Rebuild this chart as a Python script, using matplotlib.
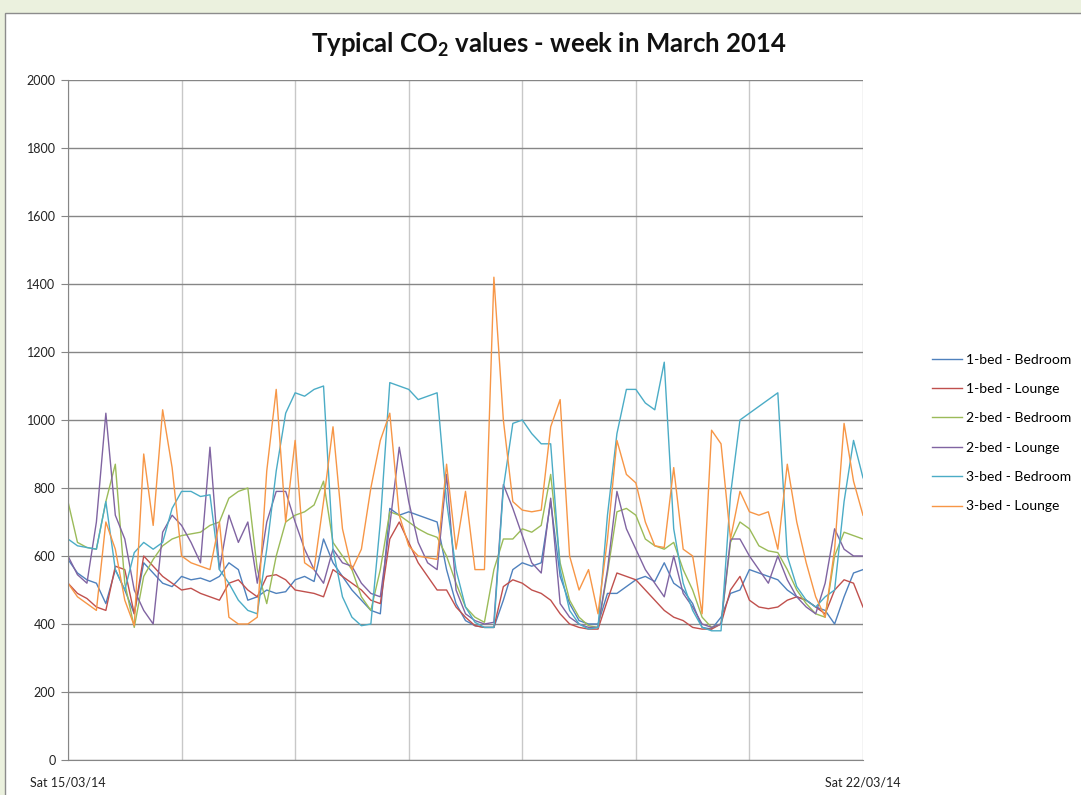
import numpy as np
import matplotlib.pyplot as plt
from matplotlib.patches import Rectangle

plt.rcParams['font.family'] = ['Lato', 'DejaVu Sans']
plt.rcParams['mathtext.default'] = 'regular'

# hours since Sat 15/03/14 00:00, one reading every 2 hours
hours = np.arange(0, 169, 2)

labels = ["1-bed - Bedroom", "1-bed - Lounge", "2-bed - Bedroom",
          "2-bed - Lounge", "3-bed - Bedroom", "3-bed - Lounge"]

bed1_bedroom = [590, 550, 530, 520, 460, 560, 500, 430, 580, 550, 520, 510,
                540, 530, 535, 525, 540, 580, 560, 470, 480, 500, 490, 495,
                530, 540, 525, 650, 580, 540, 500, 470, 440, 430, 740, 720,
                730, 720, 710, 700, 560, 460, 410, 395, 390, 390, 470, 560,
                580, 570, 580, 760, 540, 460, 410, 400, 400, 490, 490, 510,
                530, 540, 525, 580, 520, 500, 460, 390, 385, 420, 490, 500,
                560, 550, 540, 530, 500, 480, 470, 450, 440, 400, 480, 550,
                560]
bed1_lounge = [520, 490, 475, 450, 440, 570, 560, 430, 600, 570, 540, 520,
               500, 505, 490, 480, 470, 520, 530, 500, 480, 540, 545, 530,
               500, 495, 490, 480, 560, 540, 520, 500, 470, 460, 650, 700,
               640, 580, 540, 500, 500, 450, 420, 395, 390, 390, 510, 530,
               520, 500, 490, 470, 430, 400, 390, 385, 385, 470, 550, 540,
               530, 500, 470, 440, 420, 410, 390, 385, 385, 400, 500, 540,
               470, 450, 445, 450, 470, 480, 470, 450, 430, 500, 530, 520,
               450]
bed2_bedroom = [760, 640, 625, 620, 760, 870, 520, 390, 540, 590, 630, 650,
                660, 665, 670, 690, 700, 770, 790, 800, 560, 460, 600, 700,
                720, 730, 750, 820, 640, 600, 560, 480, 440, 560, 730, 720,
                700, 680, 665, 655, 600, 520, 450, 420, 405, 560, 650, 650,
                680, 670, 690, 840, 580, 470, 420, 395, 390, 550, 730, 740,
                720, 650, 630, 620, 640, 560, 500, 420, 390, 400, 640, 700,
                680, 630, 615, 610, 560, 500, 460, 430, 420, 600, 670, 660,
                650]
bed2_lounge = [600, 545, 520, 700, 1020, 720, 650, 500, 440, 400, 670, 720,
               690, 640, 580, 920, 560, 720, 640, 700, 520, 700, 790, 790,
               700, 620, 560, 520, 620, 580, 570, 520, 490, 480, 690, 920,
               760, 640, 580, 560, 840, 500, 430, 410, 400, 405, 810, 740,
               660, 580, 550, 770, 460, 420, 400, 390, 390, 560, 790, 680,
               620, 560, 520, 480, 600, 490, 450, 400, 390, 400, 650, 650,
               600, 560, 520, 600, 530, 480, 450, 430, 520, 680, 620, 600,
               600]
bed3_bedroom = [650, 630, 625, 620, 760, 560, 500, 610, 640, 620, 640, 740,
                790, 790, 775, 780, 560, 520, 470, 440, 430, 620, 850, 1020,
                1080, 1070, 1090, 1100, 620, 480, 420, 395, 400, 700, 1110, 1100,
                1090, 1060, 1070, 1080, 760, 560, 450, 405, 390, 390, 800, 990,
                1000, 960, 930, 930, 560, 440, 400, 385, 390, 720, 960, 1090,
                1090, 1050, 1030, 1170, 680, 520, 440, 390, 380, 380, 780, 1000,
                1020, 1040, 1060, 1080, 600, 510, 470, 450, 480, 500, 760, 940,
                830]
bed3_lounge = [520, 480, 460, 440, 700, 620, 470, 395, 900, 690, 1030, 860,
               600, 580, 570, 560, 700, 420, 400, 400, 420, 850, 1090, 700,
               940, 580, 560, 760, 980, 680, 560, 620, 800, 940, 1020, 720,
               630, 600, 595, 590, 870, 620, 790, 560, 560, 1420, 1000, 760,
               735, 730, 735, 980, 1060, 600, 500, 560, 430, 650, 940, 840,
               815, 700, 630, 625, 860, 620, 600, 430, 970, 930, 650, 790,
               730, 720, 730, 620, 870, 700, 580, 480, 420, 620, 990, 820,
               720]

series = [bed1_bedroom, bed1_lounge, bed2_bedroom, bed2_lounge, bed3_bedroom, bed3_lounge]
colors = ['#4F81BD', '#C0504D', '#9BBB59', '#8064A2', '#4BACC6', '#F79646']

fig = plt.figure(figsize=(10.81, 7.95), dpi=100, facecolor='#EBF1DE')

# white chart panel with thin grey border, kept behind the axes
fig.patches.append(Rectangle((5 / 1081, -0.01), 1.0, 1 - 13 / 795 + 0.01,
                             transform=fig.transFigure, facecolor='white',
                             edgecolor='#8C8C8C', linewidth=1.0, zorder=-10))

ax = fig.add_axes([68 / 1081, 1 - 760 / 795, (863 - 68) / 1081, (760 - 80) / 795])
ax.set_facecolor('none')

for vals, lab, col in zip(series, labels, colors):
    ax.plot(hours, vals, color=col, linewidth=1.0, label=lab)

ax.set_xlim(0, 168)
ax.set_ylim(0, 2000)
ax.set_yticks(np.arange(0, 2001, 200))
ax.set_xticks(np.arange(0, 169, 24))
ax.set_xticklabels(['Sat 15/03/14', '', '', '', '', '', '', 'Sat 22/03/14'])

ax.grid(axis='y', color='#868686', linewidth=1.0)
ax.grid(axis='x', color='#C8C8C8', linewidth=1.0)
ax.set_axisbelow(True)

for s in ['top', 'right']:
    ax.spines[s].set_visible(False)
for s in ['left', 'bottom']:
    ax.spines[s].set_color('#868686')

ax.tick_params(axis='y', length=5, color='#868686', labelsize=9, pad=4, labelcolor='#222222')
ax.tick_params(axis='x', length=0, labelsize=9, pad=12, labelcolor='#222222')

fig.text(549 / 1081, 1 - 45 / 795, 'Typical CO$_2$ values - week in March 2014',
         ha='center', va='center', fontsize=18.5, fontweight='bold', color='#111111')

fig.legend(loc='upper left', bbox_to_anchor=(926 / 1081, 1 - 348 / 795),
           frameon=False, fontsize=10, handlelength=2.2, handletextpad=0.3,
           labelspacing=1.25, borderaxespad=0)

fig.savefig('out.png', dpi=100, facecolor=fig.get_facecolor())
